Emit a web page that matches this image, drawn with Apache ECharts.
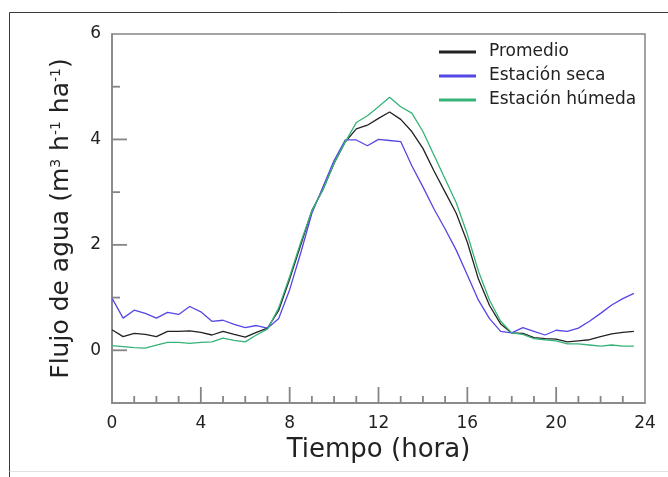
<!DOCTYPE html>
<html><head><meta charset="utf-8">
<script src="https://cdn.jsdelivr.net/npm/echarts@6/dist/echarts.min.js"></script>
<style>html,body{margin:0;padding:0;background:#fff}#c{width:668px;height:477px}</style>
</head><body><div id="c"></div>
<script>
const hours = [0,0.5,1,1.5,2,2.5,3,3.5,4,4.5,5,5.5,6,6.5,7,7.5,8,8.5,9,9.5,10,10.5,11,11.5,12,12.5,13,13.5,14,14.5,15,15.5,16,16.5,17,17.5,18,18.5,19,19.5,20,20.5,21,21.5,22,22.5,23,23.5];
const promedio = [0.39,0.26,0.32,0.30,0.26,0.36,0.36,0.37,0.34,0.29,0.36,0.30,0.25,0.34,0.42,0.75,1.35,2.0,2.65,3.05,3.55,3.95,4.2,4.27,4.4,4.52,4.38,4.15,3.83,3.4,3.0,2.6,2.05,1.35,0.85,0.5,0.33,0.32,0.24,0.22,0.21,0.16,0.18,0.2,0.26,0.31,0.34,0.36];
const seca = [0.99,0.61,0.76,0.70,0.61,0.72,0.68,0.83,0.73,0.55,0.57,0.49,0.43,0.47,0.42,0.6,1.15,1.85,2.6,3.1,3.6,3.99,3.99,3.88,4.0,3.98,3.96,3.5,3.1,2.68,2.3,1.9,1.43,0.95,0.6,0.36,0.33,0.43,0.36,0.29,0.38,0.36,0.42,0.55,0.7,0.86,0.98,1.08];
const humeda = [0.09,0.07,0.05,0.04,0.10,0.15,0.15,0.13,0.15,0.16,0.23,0.19,0.16,0.29,0.40,0.8,1.4,2.05,2.65,3.05,3.55,3.95,4.32,4.45,4.62,4.8,4.62,4.5,4.15,3.7,3.25,2.8,2.2,1.5,0.95,0.55,0.33,0.3,0.22,0.2,0.18,0.12,0.12,0.1,0.08,0.1,0.08,0.08];
const seriesNames = ['Promedio','Estación seca','Estación húmeda'];
const yLabels = [0,2,4,6];
const xMajorTicks = [4,8,12,16,20];
const xMinorTicks = [1,2,3,5,6,7,9,10,11,13,14,15,17,18,19,21,22,23];
const yMajorTicks = [0,2,4];
const yMinorTicks = [1,3,5];

const FONT = 'DejaVu Sans';
const AX = '#858585';
const colors = ['#222222','#5546e6','#36b377'];
const pairs = a => hours.map((h,i)=>[h,a[i]]);

// tick items: [kind (0 = x tick, 1 = y tick, 2 = y label), value, major (1) / minor (0)]
const tickData = [].concat(
  xMajorTicks.map(v=>[0,v,1]), xMinorTicks.map(v=>[0,v,0]),
  yMajorTicks.map(v=>[1,v,1]), yMinorTicks.map(v=>[1,v,0]),
  yLabels.map(v=>[2,v,0])
);
const TICK_LEN = {x:[7,16], y:[8,15]};

const chart = echarts.init(document.getElementById('c'));
chart.setOption({
  animation:false,
  graphic:[
    {type:'line', shape:{x1:9.5,y1:12.5,x2:668,y2:12.5}, style:{stroke:'#3a3a3a',lineWidth:1}},
    {type:'line', shape:{x1:9.5,y1:12.5,x2:9.5,y2:477}, style:{stroke:'#3a3a3a',lineWidth:1}},
    {type:'line', shape:{x1:9.5,y1:471.5,x2:668,y2:471.5}, style:{stroke:'#e2e2e2',lineWidth:1}}
  ],
  grid:{left:112, top:34, right:23, bottom:74, show:true, borderColor:AX, borderWidth:1.5},
  legend:{
    orient:'vertical', left:434, top:37, itemWidth:37, itemHeight:3, itemGap:4, icon:'rect',
    data:seriesNames,
    textStyle:{fontFamily:FONT, fontSize:17, color:'#222', lineHeight:20, padding:[0,0,0,8]}
  },
  xAxis:{
    type:'value', min:0, max:24, interval:4,
    name:'Tiempo (hora)', nameLocation:'middle', nameGap:31,
    nameTextStyle:{fontFamily:FONT, fontSize:26, color:'#222'},
    axisLine:{show:true, onZero:false, lineStyle:{color:AX, width:1.5}},
    axisTick:{show:false},
    axisLabel:{fontFamily:FONT, fontSize:17, color:'#222', margin:12},
    splitLine:{show:false}
  },
  yAxis:{
    type:'value', min:-1, max:6, interval:1,
    name:'Flujo de agua (m{s|3} h{s|-1} ha{s|-1})', nameLocation:'middle', nameGap:38,
    nameTextStyle:{fontFamily:FONT, fontSize:25, color:'#222', rich:{s:{fontFamily:FONT, fontSize:14, color:'#222', verticalAlign:'top', lineHeight:14, padding:[0,0,10,0]}}},
    axisLine:{show:true, onZero:false, lineStyle:{color:AX, width:1.5}},
    axisTick:{show:false},
    axisLabel:{show:false},
    splitLine:{show:false}
  },
  series:[
    {name:seriesNames[0], type:'line', data:pairs(promedio), showSymbol:false, color:colors[0], lineStyle:{width:1.3, color:colors[0]}},
    {name:seriesNames[1], type:'line', data:pairs(seca), showSymbol:false, color:colors[1], lineStyle:{width:1.3, color:colors[1]}},
    {name:seriesNames[2], type:'line', data:pairs(humeda), showSymbol:false, color:colors[2], lineStyle:{width:1.3, color:colors[2]}},
    {
      name:'ticks', type:'custom', silent:true, z:10, clip:false,
      data:tickData,
      renderItem:function(params, api){
        const kind = api.value(0), v = api.value(1), major = api.value(2);
        if (kind === 0) {
          const p = api.coord([v, -1]);
          return {type:'line', shape:{x1:p[0],y1:p[1],x2:p[0],y2:p[1]-TICK_LEN.x[major]}, style:{stroke:AX, lineWidth:1.8}};
        }
        const p = api.coord([0, v]);
        if (kind === 1) {
          return {type:'line', shape:{x1:p[0],y1:p[1],x2:p[0]+TICK_LEN.y[major],y2:p[1]}, style:{stroke:AX, lineWidth:1.8}};
        }
        return {type:'text', x:p[0]-11, y:p[1], style:{text:String(v), fill:'#222', font:'17px "DejaVu Sans"', align:'right', verticalAlign:'middle'}};
      }
    }
  ]
});
</script>
</body></html>
